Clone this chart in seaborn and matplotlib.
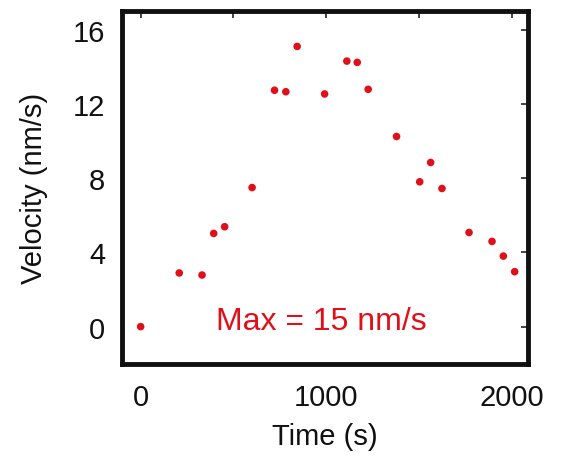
import matplotlib
matplotlib.use("Agg")
import matplotlib.pyplot as plt
import seaborn as sns
import pandas as pd

time_s = [0, 208, 331, 394, 453, 601, 722, 783, 844, 992, 1112, 1168, 1227,
          1380, 1505, 1564, 1625, 1771, 1895, 1956, 2017]
velocity = [0.0, 2.89, 2.78, 5.02, 5.38, 7.49, 12.73, 12.65, 15.09, 12.53, 14.30,
            14.23, 12.78, 10.24, 7.80, 8.84, 7.44, 5.07, 4.59, 3.80, 2.96]
x_ticks = [0, 500, 1000, 1500, 2000]
x_labels = ["0", "", "1000", "", "2000"]
y_ticks = [0, 4, 8, 12, 16]
annotation = "Max = 15 nm/s"

sns.set_theme(style="white")
plt.rcParams['font.family'] = ['Liberation Sans', 'DejaVu Sans']

df = pd.DataFrame({"Time (s)": time_s, "Velocity (nm/s)": velocity})

fig = plt.figure(figsize=(5.76, 4.6), dpi=100)
ax = fig.add_axes([0.212, 0.207, 0.705, 0.767])
red = "#e0101a"
sns.scatterplot(data=df, x="Time (s)", y="Velocity (nm/s)", ax=ax, color=red,
                s=30, edgecolor="none", linewidth=0)

ax.set_xlim(-100, 2090)
ax.set_ylim(-2, 17)
ax.set_xticks(x_ticks)
ax.set_xticklabels(x_labels)
ax.set_yticks(y_ticks)
ax.tick_params(axis="both", direction="in", length=5, width=1.2, color="#222222",
               top=True, right=True, labelsize=21, labelcolor="#111111")
ax.tick_params(axis="x", pad=14)
ax.tick_params(axis="y", pad=12)
for sp in ax.spines.values():
    sp.set_linewidth(3.5)
    sp.set_color("#111111")
ax.set_xlabel("Time (s)", fontsize=21, color="#111111", labelpad=8)
ax.set_ylabel("Velocity (nm/s)", fontsize=21, color="#111111", labelpad=18)
ax.text(972, -0.12, annotation, color=red, fontsize=23, ha="center", va="baseline")
ax.grid(False)

fig.savefig("out.png", dpi=100)
